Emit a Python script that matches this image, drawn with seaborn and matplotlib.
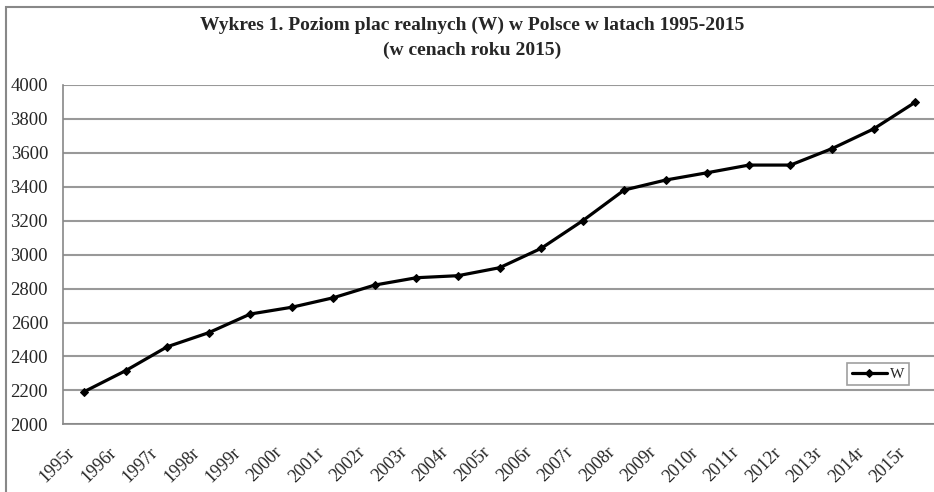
import matplotlib
matplotlib.use("Agg")
import matplotlib.pyplot as plt
import matplotlib.transforms as mtransforms
from matplotlib.patches import Rectangle
import seaborn as sns
import pandas as pd

years = [str(y) + "r" for y in range(1995, 2016)]
wages = [2192, 2316, 2457, 2540, 2650, 2690, 2746, 2821, 2864, 2876, 2923,
         3037, 3200, 3381, 3440, 3483, 3528, 3528, 3625, 3741, 3898]
y_ticks = list(range(2000, 4001, 200))
series_name = "W"
title_text = "Wykres 1. Poziom plac realnych (W) w Polsce w latach 1995-2015\n(w cenach roku 2015)"

sns.set_style("white")
plt.rcParams["font.family"] = ["Liberation Serif", "DejaVu Serif"]

W, H = 934, 492
fig = plt.figure(figsize=(W / 100, H / 100), dpi=100)

ax_left, ax_right = 63.3, 935.9
ax_top, ax_bottom = 85.0, 424.3
ax = fig.add_axes([ax_left / W, (H - ax_bottom) / H,
                   (ax_right - ax_left) / W, (ax_bottom - ax_top) / H])

df = pd.DataFrame({"pos": range(len(years)), "val": wages})
sns.lineplot(data=df, x="pos", y="val", ax=ax, color="black", linewidth=2.3,
             marker="D", markersize=4.5, markeredgecolor="black",
             markerfacecolor="black", label=series_name)

ax.set_xlim(-0.5, len(years) - 0.5)
ax.set_ylim(2000, 4000)
ax.set_yticks(y_ticks)
ax.set_yticklabels([str(v) for v in y_ticks], fontsize=13.5)
ax.yaxis.grid(True, color="#999999", linewidth=1.5)
ax.set_axisbelow(True)

# category boundaries as major ticks, labels at centers as minor ticks
ax.set_xticks([i - 0.5 for i in range(len(years) + 1)])
ax.set_xticklabels([])
ax.set_xticks(range(len(years)), minor=True)
ax.set_xticklabels(years, minor=True, rotation=45, ha="right", va="top",
                   fontsize=13)
ax.tick_params(axis="x", which="major", direction="out", length=4,
               color="#777777", width=1.2)
ax.tick_params(axis="x", which="minor", length=0, pad=14)
ax.tick_params(axis="y", direction="out", length=4, color="#777777",
               width=1.2, pad=7)
off = mtransforms.ScaledTranslation(-6 / 100, 0, fig.dpi_scale_trans)
for lab in ax.get_xticklabels(minor=True):
    lab.set_transform(lab.get_transform() + off)

for s in ["left", "bottom", "right", "top"]:
    ax.spines[s].set_color("#888888")
    ax.spines[s].set_linewidth(1.2)
ax.spines["top"].set_visible(False)

ax.set_xlabel("")
ax.set_ylabel("")

leg = ax.legend(loc="center", bbox_to_anchor=(878 / W, (H - 374) / H),
                bbox_transform=fig.transFigure, fontsize=11, frameon=True,
                fancybox=False, handlelength=2.3, handletextpad=0.2,
                borderpad=0.3, borderaxespad=0)
leg.get_frame().set_edgecolor("#888888")
leg.get_frame().set_linewidth(1.2)

fig.text(472 / W, (H - 38) / H, title_text, ha="center", va="center",
         fontsize=14, fontweight="bold", linespacing=1.55)

fig.patches.append(Rectangle((5.5 / W, -0.1), 2.0, (H - 7) / H + 0.1,
                             transform=fig.transFigure, fill=False,
                             edgecolor="#888888", linewidth=1.5))

fig.savefig("out.png", dpi=100)
